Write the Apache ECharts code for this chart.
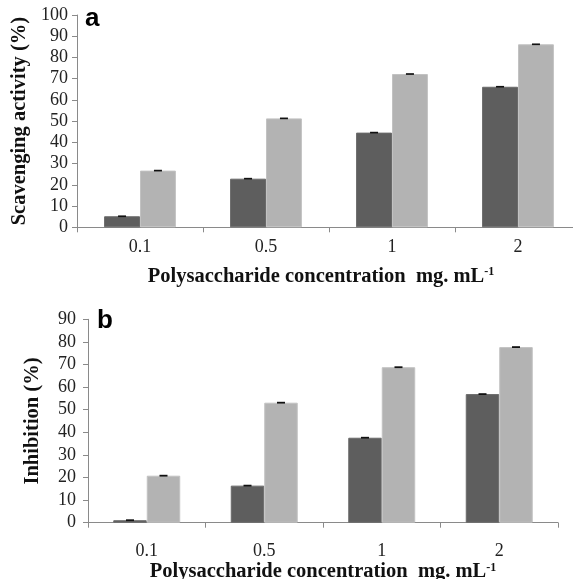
<!DOCTYPE html>
<html>
<head>
<meta charset="utf-8">
<script src="https://cdn.jsdelivr.net/npm/echarts@6/dist/echarts.min.js"></script>
<style>
html,body{margin:0;padding:0;background:#fff;}
#chart{width:573px;height:579px;}
</style>
</head>
<body>
<div id="chart"></div>
<script>
var categories = ['0.1', '0.5', '1', '2'];
var scavDark = [5.2, 22.9, 44.6, 66.2];
var scavLight = [26.7, 51.3, 72.2, 86.2];
var scavDarkErr = [0.4, 0.4, 0.4, 0.4];
var scavLightErr = [0.4, 0.4, 0.4, 0.4];
var inhDark = [1.1, 16.4, 37.6, 56.9];
var inhLight = [20.8, 53.1, 68.8, 77.7];
var inhDarkErr = [0.4, 0.4, 0.4, 0.4];
var inhLightErr = [0.4, 0.4, 0.4, 0.4];
var yTicksA = {min: 0, max: 100, interval: 10};
var yTicksB = {min: 0, max: 90, interval: 10};

var DARK = '#5e5e5e', LIGHT = '#b3b3b3', AXIS = '#8a8a8a';
var GAP = 0.43;
var serif = '"Liberation Serif","Times New Roman",serif';

function errData(vals, errs, side) {
  return vals.map(function (v, i) { return [i, v, errs[i], side]; });
}
function renderErr(params, api) {
  var i = api.value(0), v = api.value(1), e = api.value(2), side = api.value(3);
  var cw = api.size([1, 0])[0];
  var off = side * cw * (1 - GAP) / 4;
  var top = api.coord([i, v + e]);
  var bot = api.coord([i, v - e]);
  var x = top[0] + off;
  return {
    type: 'rect',
    shape: {x: x - 4, y: top[1], width: 8, height: Math.max(1.5, bot[1] - top[1])},
    style: {fill: '#111'}
  };
}

function xAxisFor(gi, labelMargin, nameGap, padRight) {
  return {
    type: 'category', gridIndex: gi, data: categories,
    axisLine: {lineStyle: {color: AXIS, width: 1}},
    axisTick: {show: true, length: 5, lineStyle: {color: AXIS}},
    axisLabel: {color: '#222', fontFamily: serif, fontSize: 18, margin: labelMargin},
    name: 'Polysaccharide concentration  mg. mL{sup|-1}',
    nameLocation: 'middle', nameGap: nameGap,
    nameTextStyle: {
      color: '#111', fontFamily: serif, fontSize: 20.5, fontWeight: 'bold',
      padding: [0, padRight, 0, 0],
      rich: {sup: {fontFamily: serif, fontSize: 12, fontWeight: 'bold', color: '#111', verticalAlign: 'top', padding: [0, 0, 9, 0]}}
    }
  };
}
function yAxisFor(gi, t, name, labelMargin, nameGap) {
  return {
    type: 'value', gridIndex: gi, min: t.min, max: t.max, interval: t.interval,
    splitLine: {show: false},
    axisLine: {show: true, lineStyle: {color: AXIS, width: 1}},
    axisTick: {show: true, length: 5, lineStyle: {color: AXIS}},
    axisLabel: {color: '#222', fontFamily: serif, fontSize: 18, margin: labelMargin},
    name: name, nameLocation: 'middle', nameGap: nameGap, nameRotate: 90,
    nameTextStyle: {color: '#111', fontFamily: serif, fontSize: 20.5, fontWeight: 'bold'}
  };
}
function barSeries(xi, yi, data, color, border) {
  return {
    type: 'bar', xAxisIndex: xi, yAxisIndex: yi, data: data,
    barGap: '0%', barCategoryGap: (GAP * 100) + '%',
    itemStyle: {color: color, borderColor: border, borderWidth: 1},
    silent: true
  };
}
function errSeries(xi, yi, data) {
  return {
    type: 'custom', xAxisIndex: xi, yAxisIndex: yi, data: data,
    renderItem: renderErr, encode: {x: 0, y: 1}, z: 5, silent: true
  };
}

var chart = echarts.init(document.getElementById('chart'), null, {renderer: 'canvas'});
chart.setOption({
  animation: false,
  backgroundColor: '#fff',
  grid: [
    {left: 77, width: 504, top: 15, height: 212.3, containLabel: false, outerBoundsMode: 'none'},
    {left: 88, right: 15, top: 319.3, height: 203.4, containLabel: false, outerBoundsMode: 'none'}
  ],
  xAxis: [xAxisFor(0, 11, 39, 16), xAxisFor(1, 20, 31, 0)],
  yAxis: [
    yAxisFor(0, yTicksA, 'Scavenging activity (%)', 9, 46),
    yAxisFor(1, yTicksB, 'Inhibition (%)', 12, 45)
  ],
  graphic: [
    {type: 'text', left: 85, top: 6, style: {text: 'a', font: 'bold 26px "Liberation Sans", Arial, sans-serif', fill: '#000'}},
    {type: 'text', left: 97, top: 308, style: {text: 'b', font: 'bold 26px "Liberation Sans", Arial, sans-serif', fill: '#000'}}
  ],
  series: [
    barSeries(0, 0, scavDark, DARK, '#6a6a6a'),
    barSeries(0, 0, scavLight, LIGHT, '#c2c2c2'),
    errSeries(0, 0, errData(scavDark, scavDarkErr, -1)),
    errSeries(0, 0, errData(scavLight, scavLightErr, 1)),
    barSeries(1, 1, inhDark, DARK, '#6a6a6a'),
    barSeries(1, 1, inhLight, LIGHT, '#c2c2c2'),
    errSeries(1, 1, errData(inhDark, inhDarkErr, -1)),
    errSeries(1, 1, errData(inhLight, inhLightErr, 1))
  ]
});
</script>
</body>
</html>
